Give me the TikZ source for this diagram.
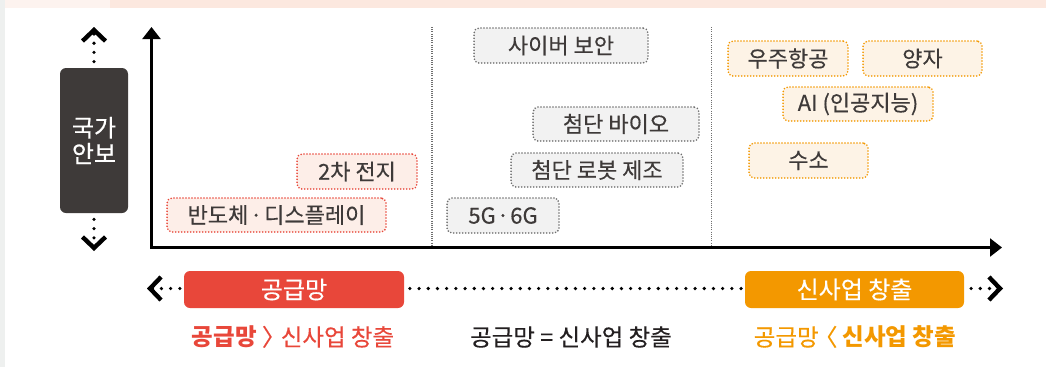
\documentclass[tikz,border=0pt]{standalone}
\usepackage{fontspec}
\setmainfont{Noto Sans CJK KR}[UprightFeatures={FakeBold=0.35}]
\usetikzlibrary{arrows.meta}
\definecolor{ink}{HTML}{3E3A39}
\definecolor{inkdark}{HTML}{231F20}
\definecolor{redc}{HTML}{E8473A}
\definecolor{redfill}{HTML}{FDEEE8}
\definecolor{grayline}{HTML}{6F6F6F}
\definecolor{grayfill}{HTML}{F2F2F2}
\definecolor{orangec}{HTML}{F39800}
\definecolor{orangefill}{HTML}{FDF3E6}
\definecolor{bandA}{HTML}{FDF3EF}
\definecolor{bandB}{HTML}{FCE8DF}
\definecolor{strip}{HTML}{EEF0EF}
\begin{document}
\begin{tikzpicture}[x=1pt,y=-1pt,
  cat/.style={rounded corners=5pt, line width=1.8pt, dash pattern=on 0pt off 3pt, line cap=round,
    inner sep=0pt, font=\fontsize{22}{26}\selectfont, text=ink, minimum height=35pt},
  redcat/.style={cat, draw=redc, fill=redfill},
  graycat/.style={cat, draw=grayline, fill=grayfill},
  orangecat/.style={cat, draw=orangec, fill=orangefill},
  bigbox/.style={rounded corners=6pt, inner sep=0pt, text=white, font=\fontsize{24}{28}\selectfont},
  chev/.tip={Straight Barb[length=11pt,width=23pt,line width=4.4pt]},
  dotline/.style={line width=3.6pt, dash pattern=on 0pt off 9.2pt, line cap=round, black},
  axis/.style={line width=2.3pt, black},
  divider/.style={line width=1.2pt, dash pattern=on 1pt off 1.2pt, grayline},
  lbl/.style={font=\fontsize{23.5}{28}\selectfont, inner sep=0pt}
]
\useasboundingbox (0,0) rectangle (1046,367);
% background
\fill[bandB] (0,0) rectangle (1046,8);
\fill[bandA] (0,0) rectangle (110,8);
\fill[strip] (0,0) rectangle (5,367);

% coordinates
\coordinate (ytop) at (151.5,27);
\coordinate (xright) at (1002,247.5);
\coordinate (d1a) at (432,27);
\coordinate (d1b) at (432,246);
\coordinate (d2a) at (711.5,27);
\coordinate (d2b) at (711.5,246);
\coordinate (secup) at (94,27);
\coordinate (secdown) at (94,251);
\coordinate (lt) at (147,288.5);
\coordinate (rt) at (1003,288.5);

% dividers
\draw[divider] (d1a) -- (d1b);
\draw[divider] (d2a) -- (d2b);

% axes
\draw[axis, {Triangle[length=12pt,width=18pt]}-{Triangle[length=12pt,width=18pt]}] (ytop) |- (xright);

% national security box with arrows
\node[bigbox, fill=ink, minimum width=68pt, minimum height=145pt, align=center,
  font=\fontsize{24}{26}\selectfont] (sec) at (94,140.5) {국가\\안보};
\draw[dotline, dash phase=3pt, -chev] (sec.north) -- (secup);
\draw[dotline, dash phase=3pt, -chev] (sec.south) -- (secdown);

% category boxes
\node[redcat, minimum width=219pt, minimum height=34pt] (bando) at (276.5,215) {반도체\kern0.08em·\kern0.08em디스플레이};
\node[redcat, minimum width=120pt] (battery) at (357,171.5) {2차 전지};
\node[graycat, minimum width=174pt] (cyber) at (561,45.5) {사이버 보안};
\node[graycat, minimum width=166pt, minimum height=34pt] (bio) at (616,124) {첨단 바이오};
\node[graycat, minimum width=172pt, minimum height=34pt] (robot) at (597,170) {첨단 로봇 제조};
\node[graycat, minimum width=112pt] (g56) at (503,215.5) {5G\kern0.05em·\kern0.05em6G};
\node[orangecat, minimum width=120pt] (space) at (788,58.5) {우주항공};
\node[orangecat, minimum width=119pt] (quantum) at (922.5,58.5) {양자};
\node[orangecat, minimum width=150pt, minimum height=34pt] (ai) at (858,104) {AI (인공지능)};
\node[orangecat, minimum width=119pt] (hydro) at (808.5,160.5) {수소};

% bottom scale
\draw[dotline, chev-chev] (lt) -- (rt);
\node[bigbox, fill=redc, minimum width=220pt, minimum height=37pt] (supply) at (294,289.5) {공급망};
\node[bigbox, fill=orangec, minimum width=219pt, minimum height=37pt] (newbiz) at (854.5,289.5) {신사업 창출};

\node[lbl, text=redc] (l1) at (293,337) {\bfseries 공급망\mdseries{} 〉\kern-0.2em 신사업 창출};
\node[lbl, text=inkdark] (l2) at (571,337) {공급망 = 신사업 창출};
\node[lbl, text=orangec] (l3) at (855,337) {공급망\kern-0.2em〈 \bfseries 신사업 창출};
\end{tikzpicture}
\end{document}
